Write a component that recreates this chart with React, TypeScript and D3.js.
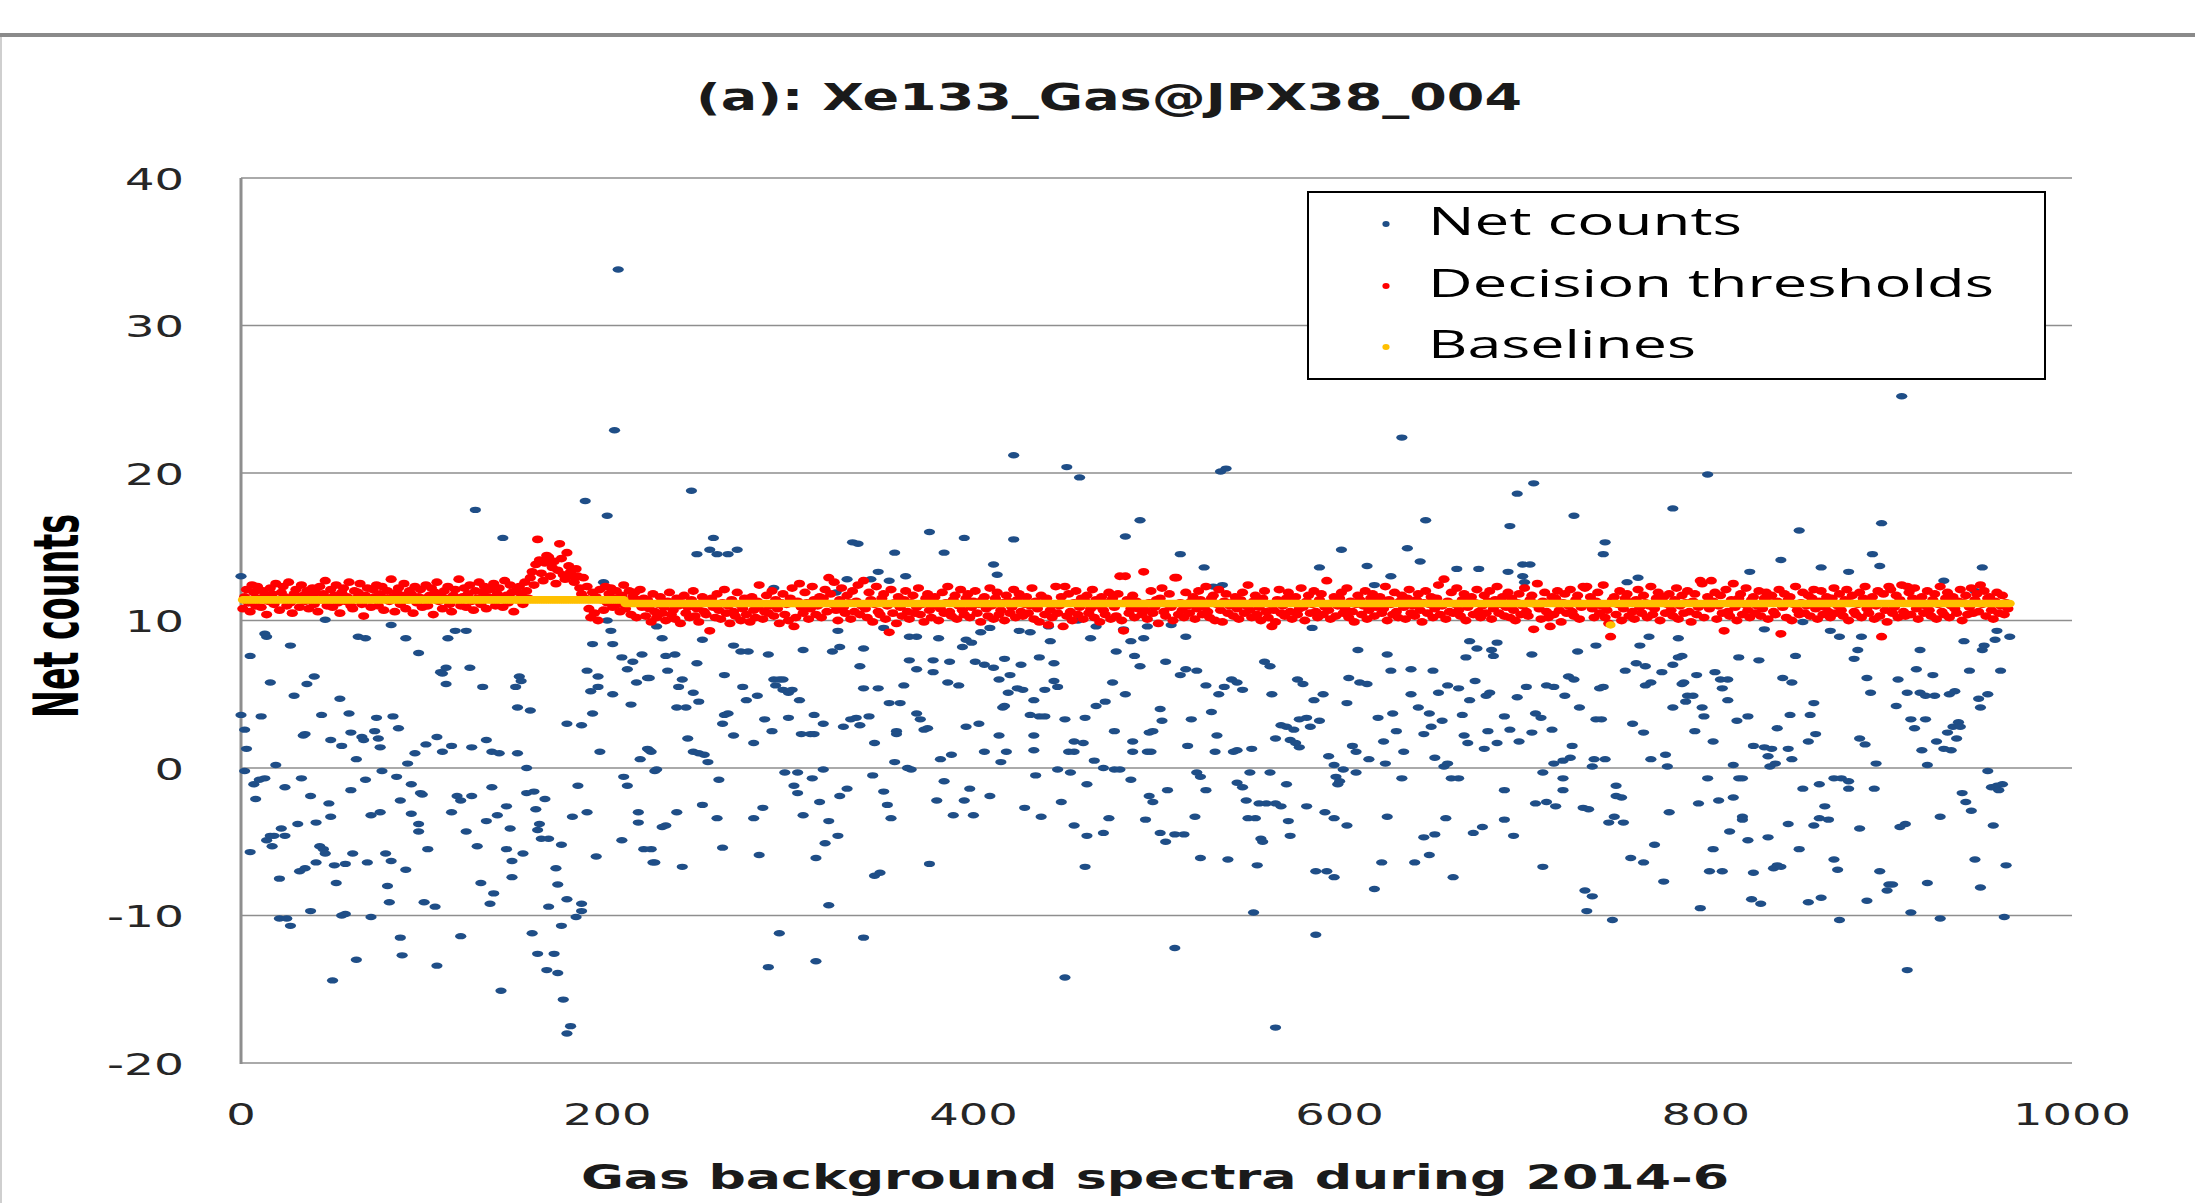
import React from 'react';
import * as d3 from 'd3';

// ---------- data ----------
const TITLE = '(a): Xe133_Gas@JPX38_004';
const X_LABEL = 'Gas background spectra during 2014-6';
const Y_LABEL = 'Net counts';
const X_TICKS = [0, 200, 400, 600, 800, 1000];
const Y_TICKS = [-20, -10, 0, 10, 20, 30, 40];
const SERIES_NAMES = ['Net counts', 'Decision thresholds', 'Baselines'];

// Net counts: [spectrum index, net counts]
const NET_COUNTS: [number, number][] = [
  [0,13.0],[0,3.6],[2,2.6],[3,1.3],[2,-0.2],[5,7.6],[7,-1.1],[8,-2.1],[10,-0.8],[11,3.5],[13,9.1],[13,-0.7],[14,8.9],[5,-5.7],[14,-4.9],[16,5.8],[16,-4.6],[17,-5.3],[18,-4.6],[19,0.2],
  [21,-7.5],[21,-10.2],[22,-4.1],[24,-1.3],[24,-4.6],[25,-10.2],[27,8.3],[27,-10.7],[29,4.9],[31,-3.8],[32,-7.0],[33,-0.7],[34,2.2],[35,2.3],[35,-6.8],[36,5.7],[38,-1.9],[38,-9.7],[40,6.2],[41,-3.7],
  [41,-6.4],[43,-5.3],[44,3.6],[45,-5.5],[46,10.05],[46,-5.8],[48,-2.4],[49,1.9],[49,-3.3],[50,-14.4],[51,-6.6],[52,-7.8],[54,4.7],[55,1.5],[55,-10.0],[57,-6.5],[57,-9.9],[59,3.7],[60,2.4],[60,-1.5],
  [61,-5.8],[63,0.6],[63,-13.0],[64,8.9],[66,2.1],[67,1.9],[68,8.8],[68,-0.8],[69,-6.4],[71,-3.2],[71,-10.1],[73,2.5],[74,3.4],[75,2.0],[76,1.4],[76,-3.0],[77,-0.2],[79,-5.8],[80,-8.0],[81,-9.1],
  [82,9.7],[82,-6.3],[83,3.5],[85,-0.6],[86,2.7],[87,-2.2],[87,-11.5],[88,-12.7],[90,8.8],[90,-6.9],[91,0.3],[93,-1.1],[93,-3.1],[95,1.0],[97,7.8],[97,-3.8],[97,-4.3],[98,-1.7],[99,-1.8],[100,-9.1],
  [101,1.6],[102,-5.5],[106,-9.4],[107,2.1],[107,-13.4],[109,6.5],[110,6.4],[110,1.1],[112,6.8],[112,5.7],[113,8.8],[115,1.5],[115,-3.0],[117,9.3],[118,-1.9],[120,-2.2],[120,-11.4],[123,9.3],[123,-4.3],[125,6.8],
  [126,1.4],[126,-1.9],[128,17.5],[129,-5.3],[131,-7.8],[132,5.5],[134,1.9],[134,-3.6],[136,-9.2],[137,1.1],[137,-1.3],[138,-8.5],[140,-3.2],[141,1.0],[142,-15.1],[143,15.6],[145,-2.6],[145,-5.5],[147,-4.1],[148,-6.3],
  [148,-7.4],[150,5.5],[151,4.1],[151,1.0],[152,6.2],[153,5.9],[154,-5.8],[156,0.0],[156,-1.7],[158,3.9],[159,-11.2],[160,-1.6],[161,-2.8],[162,-4.2],[162,-12.6],[163,-3.8],[164,-4.8],[166,-2.1],[167,-13.7],[168,-4.8],
  [168,-9.4],[171,-12.6],[172,-6.8],[173,-7.9],[173,-13.9],[175,-5.2],[175,-10.7],[176,-15.7],[178,3.0],[178,-8.9],[178,-18.0],[180,-17.5],[181,-3.3],[183,-10.1],[184,-1.2],[186,2.9],[186,-9.2],[186,-9.7],[188,18.1],[189,6.6],
  [189,-3.0],[191,5.2],[192,8.4],[192,3.7],[194,-6.0],[195,6.2],[195,5.5],[196,1.1],[198,12.6],[200,17.1],[200,10.0],[202,9.3],[203,8.4],[203,5.0],[204,22.9],[206,33.8],[208,7.5],[208,-4.9],[209,-0.6],[211,6.7],
  [211,-1.2],[213,4.3],[214,7.2],[216,5.8],[217,-3.0],[217,-3.7],[218,0.6],[219,7.7],[220,-5.5],[222,6.1],[222,1.3],[224,1.1],[225,-6.4],[226,-0.2],[230,-4.0],
  [223,6.1],[223,1.2],[224,-5.5],[226,-6.4],[227,9.6],[227,-0.1],[230,8.8],[232,7.6],[232,-3.9],[233,6.6],[237,7.7],[238,4.1],[238,-3.0],[239,5.5],[241,6.0],[241,-6.7],[243,4.1],[244,2.0],[246,18.8],[247,5.1],
  [247,1.1],[249,14.5],[249,7.1],[250,4.5],[250,1.0],[252,8.7],[252,-2.5],[253,0.9],[255,0.4],[256,14.8],[258,15.6],[260,14.5],[260,-3.4],[261,-0.8],[263,3.0],[263,-5.4],[264,6.3],[264,3.6],[266,14.5],[266,3.7],
  [269,8.3],[269,2.2],[271,14.8],[273,7.9],[274,5.5],[276,4.6],[277,7.9],[280,1.7],[280,-3.4],[282,4.9],[283,-5.9],[285,-2.7],[286,3.3],[288,7.7],[288,-13.5],[290,2.5],[291,12.2],[291,6.0],[292,5.6],[294,6.0],
  [294,-11.2],[296,6.0],[296,5.3],[297,-0.3],[299,5.1],[299,3.4],[301,5.3],[302,-1.2],[304,-0.3],[304,-1.7],[305,4.6],[306,2.3],[307,8.0],[307,-3.2],[311,2.3],[312,-0.7],[313,3.6],[313,2.3],[314,-6.1],[314,-13.1],
  [316,-2.3],[318,3.0],[318,-0.1],[319,-5.1],[321,-3.6],[321,-9.3],[323,7.9],[325,11.9],[326,9.3],[326,-4.6],[327,8.2],[327,-1.9],[329,2.8],[331,12.8],[331,-1.4],[333,3.3],[334,15.3],[336,3.4],[337,15.2],[338,6.9],
  [338,2.9],[340,8.1],[340,5.4],[340,-11.5],[343,3.5],[344,12.8],[345,-0.5],[346,1.7],[346,-7.3],[348,13.3],[348,5.4],[349,-7.1],[351,9.5],[351,-1.6],[353,-2.5],[354,12.7],[354,4.4],[355,-3.4],[357,14.6],[357,0.4],
  [358,2.5],[358,2.3],[360,4.4],[362,5.6],[363,13.0],[364,0.0],[365,8.9],[365,7.3],[366,-0.1],[369,8.9],[369,6.7],[369,3.7],[371,3.3],[373,2.6],[375,2.7],[376,16.0],[376,-6.5],[378,7.3],[378,6.5],[380,-2.2],
  [381,8.8],[382,0.6],[384,14.6],[384,-0.9],[386,5.8],[387,7.2],[388,0.9],[389,-3.2],[392,5.6],[394,8.2],[395,15.6],[395,-2.2],[396,8.7],[396,2.8],[398,-1.4],[399,8.5],[400,-3.2],[401,7.2],[403,3.0],[404,9.2],
  [406,7.0],[406,1.1],[409,9.5],[409,-1.9],[411,13.8],[411,6.8],[413,13.1],[414,6.0],[414,2.2],[415,0.4],[416,4.1],[417,7.4],[417,4.2],[418,1.1],[419,5.1],[420,6.3],[422,21.2],[422,15.5],[424,5.4],[425,9.3],
  [426,7.0],[427,5.3],[428,-2.7],[431,9.2],[431,3.6],[433,4.6],[433,2.2],[433,1.2],[434,-0.5],[436,7.5],[436,3.5],[437,-3.3],[439,5.3],[439,3.5],[441,9.6],[442,8.6],[444,7.1],[444,5.9],[446,5.5],[446,-0.1],
  [448,-2.3],[450,3.3],[450,-14.2],[451,20.4],[452,1.1],[453,-0.3],[455,1.8],[455,1.1],[455,-3.9],[457,10.0],[458,19.7],[460,1.7],[461,3.4],[461,-6.7],[462,-1.1],[462,-4.6],[464,8.8],[466,0.5],[467,9.6],[467,4.2],
  [471,0.0],[471,-4.4],[472,4.5],[474,-3.4],[476,5.8],[477,2.5],[477,-0.1],[478,7.9],[480,-0.1],[482,9.4],[483,15.7],[483,5.0],[486,8.6],[486,-0.8],[487,1.1],[487,1.8],[488,7.6],[491,16.8],[491,6.9],[493,8.8],
  [494,-3.5],[495,9.6],[495,1.1],[496,2.4],[496,-1.9],
  [497,1.1],[498,2.5],[498,-2.3],[502,4.0],[502,-4.4],[503,3.2],[505,7.2],[505,-5.0],[506,-1.5],[508,9.7],[510,-4.5],[510,-12.2],[513,14.5],[513,6.3],[515,-4.5],[516,8.9],[516,6.7],[517,1.5],[519,3.3],[521,-3.3],
  [522,6.6],[522,-0.3],[524,-0.6],[524,-6.1],[526,13.6],[527,5.6],[527,-1.5],[530,3.8],[531,12.3],[532,1.1],[533,2.2],[534,5.0],[535,20.1],[536,12.4],[537,5.5],[538,20.3],[539,-6.2],[541,6.0],[542,1.1],[544,5.8],
  [544,1.2],[544,-1.0],[547,5.3],[547,-1.3],[549,-2.2],[550,-3.4],[551,-0.3],[552,1.3],[553,-9.8],[554,-3.4],[555,-6.6],[556,-2.4],[557,-4.8],[558,-5.0],[559,7.2],[560,-2.4],[562,6.9],[562,-0.3],[563,5.0],[565,2.0],
  [565,-2.4],[565,-17.6],[568,2.9],[568,-2.6],[571,2.8],[571,-1.1],[572,-3.6],[573,1.9],[573,-4.6],[575,2.6],[576,1.7],[577,6.0],[578,3.3],[578,1.4],[580,5.7],[582,3.4],[582,-2.6],[584,2.8],[585,9.5],[586,4.6],
  [587,-7.0],[587,-11.3],[589,13.6],[589,3.2],[591,5.0],[592,-3.0],[593,-7.0],[594,0.8],[597,0.2],[597,-3.4],[597,-7.4],[598,-0.6],[599,-1.1],[600,-0.9],[601,14.8],[602,-0.1],[604,4.4],[604,-3.9],[605,6.1],[607,1.5],
  [609,1.1],[609,-0.3],[610,8.0],[611,5.8],[615,13.7],[615,5.7],[616,0.6],[619,12.4],[619,-8.2],[621,3.4],[623,-6.4],[624,1.8],[625,0.3],[626,7.7],[626,-3.3],[628,13.0],[628,6.6],[629,3.7],[631,2.5],[634,22.4],
  [634,-0.7],[635,1.1],[637,14.9],[639,6.7],[639,5.0],[641,-6.4],[643,4.1],[644,14.0],[646,2.3],[646,-4.7],[647,16.8],[649,3.7],[649,-5.9],[650,2.8],[651,6.6],[652,0.7],[652,-4.5],[654,5.1],[656,3.2],[657,0.1],
  [658,-3.4],[659,5.6],[659,0.3],[661,-0.7],[662,-7.4],[664,13.5],[665,5.4],[665,-0.7],[667,3.6],[668,2.2],[669,7.5],[670,1.7],[671,8.6],[671,4.6],[673,-4.4],[674,5.9],[675,8.1],[676,13.5],[678,-4.0],[679,1.3],
  [680,4.9],[681,2.5],[682,5.1],[683,8.0],[684,7.6],[686,8.5],[686,1.7],[690,3.5],[690,-1.5],[690,-3.5],[692,13.3],[693,16.4],[693,2.6],[695,-4.6],[697,18.6],[697,4.8],[698,1.8],[700,13.8],[700,13.0],[701,12.6],
  [702,5.5],[704,13.8],[705,7.7],[705,2.4],[706,19.3],[707,3.7],[707,-2.4],[710,3.4],[711,-0.3],[711,-6.7],[713,5.6],[713,-2.3],[716,2.6],[717,5.5],[717,0.3],[718,-2.6],[722,0.5],[722,-0.7],[722,-1.5],[723,4.9],
  [725,6.2],[726,0.7],[727,1.5],[728,17.1],[728,6.0],[730,7.9],[731,4.1],[733,-2.7],[734,-8.3],[735,-9.7],[738,-8.7],[739,0.6],[740,8.3],[740,3.3],[742,5.4],
  [743,3.3],[744,14.5],[744,5.5],[745,15.3],[745,0.6],[738,0.1],[736,-2.8],[747,-3.7],[749,-10.3],[750,-3.3],[751,-1.9],[751,-1.2],[754,-2.0],[755,-3.7],[756,6.6],[757,12.6],[759,-6.1],[760,3.0],[762,7.1],[763,12.9],
  [764,8.3],[766,2.4],[766,-6.4],[767,6.9],[767,5.6],[769,8.9],[770,5.8],[770,0.6],[772,-5.2],[776,6.5],[777,-7.7],[778,0.9],[779,0.1],[780,-3.0],[782,17.6],[782,7.0],[782,4.1],[785,7.5],[785,8.8],[787,7.6],
  [787,5.7],[788,5.8],[789,4.5],[790,4.9],[793,4.9],[794,2.5],[795,6.3],[796,-2.4],[797,-9.5],[798,4.1],[799,3.5],[801,19.9],[801,-0.7],[802,-7.0],[804,1.8],[804,-5.5],[805,6.5],[807,-2.2],[808,6.0],[809,5.4],
  [809,-7.0],[812,6.0],[812,4.6],[813,-4.3],[815,0.2],[815,-2.0],[817,3.2],[818,7.5],[818,-0.7],[820,-0.7],[820,-3.3],[820,-3.5],[823,3.5],[823,-4.9],[824,13.3],[826,1.5],[826,-7.1],[825,-8.9],[829,7.3],[830,-9.2],
  [832,9.4],[832,1.4],[834,0.8],[834,-4.7],[835,0.1],[836,1.3],[837,-6.8],[838,0.3],[839,2.7],[839,-6.6],[841,14.1],[841,-6.7],[842,6.1],[845,1.3],[845,-3.8],[846,3.6],[847,5.8],[847,0.6],[849,7.6],[851,16.1],
  [851,-5.5],[853,9.9],[853,-1.4],[856,1.8],[856,-9.1],[857,3.6],[859,4.4],[859,-3.9],[860,2.3],[862,-3.4],[862,-1.1],[863,13.6],[863,-8.8],[865,-2.6],[867,-3.5],[868,9.3],[870,-0.7],[870,-6.2],[872,-6.9],[873,8.9],
  [873,-10.3],[874,-0.7],[878,13.3],[878,-0.9],[878,-1.4],[881,7.4],[883,8.0],[884,2.0],[884,-4.1],[885,8.9],[887,1.6],[888,6.1],[888,-9.0],[890,5.1],[891,14.5],[892,-1.4],[893,0.3],[895,13.7],[895,-7.0],[896,16.6],
  [899,-8.3],[900,-7.9],[902,-7.9],[904,4.2],[905,6.0],[906,-4.0],[907,25.2],[909,-3.8],[910,5.1],[910,-13.7],[912,3.3],[912,-9.8],[914,2.7],[915,6.7],[917,8.0],[917,5.1],[918,1.2],[920,4.9],[920,3.3],[921,0.2],
  [921,-7.8],[924,6.3],[925,4.9],[926,1.8],[928,-3.3],[928,-10.2],[930,12.7],[930,1.3],[932,2.4],[933,5.0],[934,1.2],[935,2.8],[936,5.2],[937,2.0],[938,3.1],[939,2.8],[940,-1.7],[941,8.6],[942,-2.3],[944,6.6],
  [945,-2.9],[947,12.0],[947,-6.2],[949,4.7],[950,4.1],[950,-8.1],[951,13.6],[951,8.0],[952,8.3],[954,5.0],[954,-0.2],[956,-1.3],[957,-3.9],[958,8.7],[959,9.3],[959,-1.2],[960,-1.5],[961,6.6],[962,-1.1],[963,-10.1],
  [964,-6.6],[966,8.9],
];

// Decision thresholds, one per spectrum, starting at index 1
const DECISION_THRESHOLDS: number[] = [
  10.8,11.6,12.1,11.2,10.6,12.4,11.9,11.0,12.3,11.5,10.9,12.0,11.7,10.4,11.3,12.2,11.8,11.1,12.5,11.4,
  10.7,11.9,12.3,11.6,11.0,12.6,11.2,10.5,11.8,12.1,11.5,10.9,12.4,11.7,11.3,12.0,10.8,11.6,12.2,11.1,
  11.9,10.6,12.3,11.4,11.8,12.7,11.0,11.5,12.1,10.9,11.7,12.4,11.2,10.5,11.9,12.2,11.3,11.6,12.6,11.0,
  10.8,12.0,11.5,11.9,12.5,11.1,10.3,11.7,12.2,11.4,10.9,12.1,11.6,12.4,11.0,11.8,12.3,10.7,11.5,12.0,
  11.3,12.8,11.6,10.6,11.9,12.2,11.1,11.7,12.5,10.8,11.4,12.0,11.8,10.5,12.3,11.2,11.6,12.1,10.9,11.5,
  12.4,11.0,11.7,12.2,10.4,11.9,12.6,11.3,11.8,10.8,12.0,11.5,12.3,11.1,10.6,11.7,12.1,11.4,12.8,11.0,
  11.6,12.2,10.9,11.8,12.4,11.3,10.7,12.0,11.5,12.6,11.1,11.9,12.3,10.8,11.6,12.1,11.4,12.5,11.0,11.8,
  12.2,11.5,10.9,12.7,11.7,11.2,12.4,11.9,10.6,12.0,11.4,12.3,11.8,11.1,12.6,12.0,11.5,12.9,13.3,12.4,
  13.8,15.5,14.1,13.2,12.7,13.9,14.4,14.3,13.0,13.6,14.0,12.5,13.4,15.2,14.2,13.1,12.8,14.6,13.7,13.3,
  13.0,12.6,13.5,13.0,12.2,11.8,12.9,11.5,12.3,10.8,10.2,11.9,10.5,11.6,10.0,12.1,11.4,10.7,12.3,11.2,
  11.8,12.2,10.9,11.5,12.0,11.1,10.6,11.7,12.4,10.8,11.3,12.0,10.4,11.6,11.9,10.2,11.4,12.1,10.9,11.5,
  10.3,11.4,10.8,9.9,11.8,10.6,10.2,11.1,11.6,10.5,10.9,10.0,11.3,11.9,10.4,10.7,10.1,11.5,11.0,9.8,
  11.2,11.7,10.5,10.9,10.2,11.4,12.0,10.3,10.8,9.9,11.1,11.6,10.6,10.4,11.3,9.3,11.5,10.9,10.2,11.8,
  10.7,10.1,11.2,12.1,10.5,11.0,9.8,11.4,10.6,10.3,11.9,11.1,10.0,10.8,11.5,10.4,11.2,9.9,11.6,10.7,
  10.2,11.3,12.4,10.9,10.1,10.6,11.7,10.5,11.0,12.0,10.3,11.4,10.8,9.8,11.2,11.8,10.4,11.1,10.0,11.5,
  12.2,9.6,10.2,11.3,12.5,10.9,10.5,11.9,11.2,10.1,10.8,12.3,11.4,10.4,11.0,11.6,10.2,11.5,12.1,10.6,
  12.9,11.8,11.1,12.6,10.7,10.0,11.4,12.2,10.9,10.5,11.7,11.2,10.1,12.0,10.6,11.3,12.4,10.4,11.0,12.7,
  10.8,10.2,11.9,11.4,9.9,11.1,12.3,10.6,10.4,11.5,11.8,10.1,11.0,9.2,12.1,10.5,11.2,9.8,11.6,10.9,
  10.3,11.4,12.0,10.6,10.1,11.2,11.7,10.5,10.9,12.2,10.4,11.1,9.9,11.5,11.8,10.7,10.2,11.3,11.6,11.0,
  10.0,10.8,11.9,10.5,11.2,12.3,10.6,10.3,11.4,11.7,10.1,11.0,12.1,10.7,10.4,11.5,11.8,10.2,10.9,11.3,
  12.0,10.5,11.1,9.9,11.4,11.6,10.8,10.3,12.2,11.0,10.1,11.5,11.9,10.4,10.7,11.2,10.0,11.7,11.3,10.5,
  10.9,12.1,10.2,11.4,11.8,10.6,10.3,11.1,11.6,10.5,11.0,12.2,10.1,11.3,10.8,9.9,11.7,11.2,10.4,11.5,
  9.7,10.7,10.2,11.1,12.3,10.5,11.0,11.6,9.6,12.3,10.3,11.8,10.6,10.0,11.2,12.0,10.4,10.9,11.5,10.1,
  11.3,11.7,10.5,10.8,12.1,10.2,11.4,11.0,9.9,11.6,10.7,10.4,11.2,11.9,10.1,11.5,10.9,10.3,11.8,13.0,
  10.0,9.3,13.0,11.4,10.5,10.8,11.7,10.2,11.3,10.8,11.0,10.4,13.3,10.7,10.1,11.2,12.0,10.5,10.9,11.4,
  9.8,11.5,12.2,10.6,10.3,11.1,11.8,10.9,10.0,12.9,12.9,10.4,11.2,10.7,10.2,11.9,11.0,10.5,11.3,11.6,
  10.1,10.8,12.0,11.4,10.4,10.9,12.3,10.6,10.2,11.5,11.7,10.0,11.1,12.1,10.7,9.9,11.3,11.8,10.5,11.0,
  11.2,10.3,11.6,10.8,10.1,11.4,11.9,10.5,11.0,12.4,10.7,10.2,11.3,11.7,10.4,10.9,10.0,11.5,12.0,10.6,
  10.2,11.1,9.6,10.7,9.9,11.4,12.1,10.5,11.0,10.3,11.5,11.9,10.6,10.1,11.2,11.6,10.4,10.8,12.2,10.9,
  10.0,11.3,11.7,10.5,11.1,12.0,10.6,10.2,11.4,11.8,10.4,10.9,12.7,10.7,10.1,11.2,11.6,10.3,11.0,11.5,
  11.9,10.5,10.8,12.2,10.2,11.3,10.6,9.9,11.1,11.7,11.4,10.4,11.0,12.0,10.1,10.7,11.5,11.8,10.3,10.9,
  11.2,11.6,10.5,10.8,12.3,10.0,11.4,11.1,10.4,11.9,10.6,10.2,11.3,11.7,10.9,10.1,11.5,12.1,10.5,11.0,
  10.3,11.4,11.8,10.7,9.9,11.2,12.0,10.5,11.1,11.6,10.2,10.8,11.5,12.4,10.4,11.0,12.8,10.1,11.3,10.6,
  11.9,10.5,11.1,12.2,10.7,10.3,11.4,11.8,10.0,10.9,11.5,11.6,10.4,11.2,12.1,10.6,10.2,11.0,11.7,10.5,
  11.3,12.0,10.1,10.8,11.4,12.3,10.5,11.1,11.6,10.3,10.9,11.9,10.2,11.5,10.7,10.0,11.2,11.8,10.4,11.0,
  12.2,10.6,10.3,11.4,11.7,9.4,11.1,12.5,10.8,10.1,11.3,11.9,10.6,10.2,9.6,11.6,10.4,11.5,12.0,10.7,
  9.9,11.2,11.8,10.5,11.0,12.1,10.6,10.3,11.4,11.7,10.1,10.9,12.3,12.2,12.3,11.1,11.6,10.8,10.2,11.3,
  11.9,10.5,11.0,12.4,10.2,10.7,9.8,8.9,11.4,11.6,10.4,11.1,12.0,10.0,10.8,11.5,11.8,10.3,11.2,10.6,
  10.1,11.4,12.1,10.9,10.5,11.7,11.2,10.2,11.0,12.3,10.4,10.8,11.5,11.9,10.0,11.3,11.6,10.5,11.1,11.8,
  10.7,10.3,11.4,12.2,10.1,11.0,11.7,10.5,11.2,12.0,10.6,9.9,11.3,11.8,10.4,10.9,12.7,12.5,10.2,11.1,
  11.6,10.8,12.7,11.3,11.9,10.1,11.0,11.7,10.5,9.3,12.1,10.6,10.3,11.4,12.5,10.9,10.0,11.5,11.8,10.4,
  11.1,12.2,10.7,10.2,11.4,11.6,10.5,11.0,12.0,10.3,10.8,11.5,11.9,10.1,11.2,11.7,10.6,10.4,11.3,12.1,
  9.1,10.9,11.8,10.2,11.4,11.6,10.0,11.1,12.3,10.7,10.4,11.2,11.9,10.5,11.0,11.7,10.3,11.5,12.1,10.8,
  10.1,11.3,12.0,10.4,10.9,11.6,10.6,10.2,11.5,12.2,10.5,11.0,11.8,10.7,10.3,11.4,12.1,10.0,11.2,11.7,
  10.6,10.4,11.1,11.9,10.2,11.5,12.3,10.8,10.5,11.2,11.6,10.1,11.0,12.0,10.3,8.9,11.8,10.7,9.9,12.3,
  12.1,10.5,10.9,11.7,10.2,11.4,12.4,10.6,10.3,12.3,11.9,10.4,11.5,12.2,10.8,10.1,11.2,11.6,10.5,11.0,
  12.0,10.7,10.3,11.4,11.8,10.1,11.1,12.3,10.6,10.4,11.5,11.9,10.2,11.0,11.6,10.8,10.5,11.3,12.1,10.0,
  11.2,11.7,10.4,10.9,12.2,10.5,11.4,11.8,10.6,12.4,11.1,12.0,10.3,11.5,11.6,10.7,10.1,11.3,11.9,10.5,
  11.0,11.7,10.4,11.2,10.8,
];

// Baselines as runs: [first index, last index, value]
const BASELINE_RUNS: [number, number, number][] = [
  [1, 209, 11.4],
  [210, 747, 11.15],
  [748, 748, 9.7],
  [749, 966, 11.15],
];

const COLORS = { net: '#1f4e87', dt: '#ff0000', base: '#ffc000' };

// ---------- layout ----------
const W = 2195;
const H = 1203;
const PLOT = { left: 241, right: 2072, top: 178, bottom: 1063 };

export default function App() {
  const x = d3.scaleLinear().domain([0, 1000]).range([PLOT.left, PLOT.right]);
  const y = d3.scaleLinear().domain([-20, 40]).range([PLOT.bottom, PLOT.top]);

  const thresholds = DECISION_THRESHOLDS.map((v, i) => [i + 1, v] as [number, number]);
  const baselines: [number, number][] = [];
  BASELINE_RUNS.forEach(([a, b, v]) => {
    for (let i = a; i <= b; i++) baselines.push([i, v]);
  });

  const tickLen = (v: number) => {
    const s = String(v);
    const digits = s.replace('-', '').length;
    return digits * 29.5 + (v < 0 ? 18 : 0);
  };

  return (
    <svg
      width={W}
      height={H}
      style={{ position: 'absolute', left: 0, top: 0, display: 'block' }}
      xmlns="http://www.w3.org/2000/svg"
    >
      <rect x={0} y={0} width={W} height={H} fill="#ffffff" />
      {/* frame lines */}
      <line x1={0} x2={W} y1={35} y2={35} stroke="#8a8a8a" strokeWidth={4} />
      <line x1={1} x2={1} y1={37} y2={H} stroke="#cfcfcf" strokeWidth={2} />

      {/* gridlines */}
      {Y_TICKS.map((t) => (
        <line
          key={'g' + t}
          x1={PLOT.left}
          x2={PLOT.right}
          y1={y(t)}
          y2={y(t)}
          stroke="#8e8e8e"
          strokeWidth={1.6}
        />
      ))}
      <line
        x1={PLOT.left}
        x2={PLOT.left}
        y1={PLOT.top}
        y2={PLOT.bottom + 1}
        stroke="#8e8e8e"
        strokeWidth={3}
      />

      {/* y tick labels */}
      {Y_TICKS.map((t) => (
        <text
          key={'yt' + t}
          x={184 - tickLen(t)}
          y={y(t) + 11.5}
          fontFamily="DejaVu Sans, Verdana, sans-serif"
          fontSize={31}
          fill="#262626"
          textLength={tickLen(t)}
          lengthAdjust="spacingAndGlyphs"
        >
          {t}
        </text>
      ))}

      {/* x tick labels */}
      {X_TICKS.map((t) => (
        <text
          key={'xt' + t}
          x={x(t) - tickLen(t) / 2}
          y={1125}
          fontFamily="DejaVu Sans, Verdana, sans-serif"
          fontSize={31}
          fill="#262626"
          textLength={tickLen(t)}
          lengthAdjust="spacingAndGlyphs"
        >
          {t}
        </text>
      ))}

      {/* series */}
      <g>
        {NET_COUNTS.map(([i, v], k) => (
          <ellipse key={'n' + k} cx={x(i)} cy={y(v)} rx={5.6} ry={3.2} fill={COLORS.net} />
        ))}
      </g>
      <g>
        {thresholds.map(([i, v]) => (
          <ellipse key={'d' + i} cx={x(i)} cy={y(v)} rx={5.6} ry={3.9} fill={COLORS.dt} />
        ))}
      </g>
      <g>
        {baselines.map(([i, v]) => (
          <ellipse key={'b' + i} cx={x(i)} cy={y(v)} rx={5} ry={3.8} fill={COLORS.base} />
        ))}
      </g>

      {/* title */}
      <text
        x={696}
        y={110}
        fontFamily="DejaVu Sans, Verdana, sans-serif"
        fontWeight="bold"
        fontSize={38}
        fill="#1a1a1a"
        textLength={826}
        lengthAdjust="spacingAndGlyphs"
      >
        {TITLE}
      </text>

      {/* x axis title */}
      <text
        x={581}
        y={1189}
        fontFamily="DejaVu Sans, Verdana, sans-serif"
        fontWeight="bold"
        fontSize={34}
        fill="#1a1a1a"
        textLength={1148}
        lengthAdjust="spacingAndGlyphs"
      >
        {X_LABEL}
      </text>

      {/* y axis title */}
      <text
        transform={`translate(78,616) rotate(-90)`}
        x={-102}
        y={0}
        fontFamily="DejaVu Sans, Arial, sans-serif"
        fontWeight="bold"
        fontSize={62}
        fill="#000000"
        textLength={204}
        lengthAdjust="spacingAndGlyphs"
      >
        {Y_LABEL}
      </text>

      {/* legend */}
      <rect x={1308} y={192} width={737} height={187} fill="#ffffff" stroke="#000000" strokeWidth={2} />
      {SERIES_NAMES.map((name, k) => {
        const color = [COLORS.net, COLORS.dt, COLORS.base][k];
        const base = [235, 297, 358][k];
        const len = [314, 566, 268][k];
        return (
          <g key={'lg' + k}>
            <ellipse cx={1386} cy={base - 11} rx={3.6} ry={3} fill={color} />
            <text
              x={1428}
              y={base}
              fontFamily="Open Sans, Lato, sans-serif"
              fontSize={39}
              fill="#000000"
              textLength={len}
              lengthAdjust="spacingAndGlyphs"
            >
              {name}
            </text>
          </g>
        );
      })}
    </svg>
  );
}
